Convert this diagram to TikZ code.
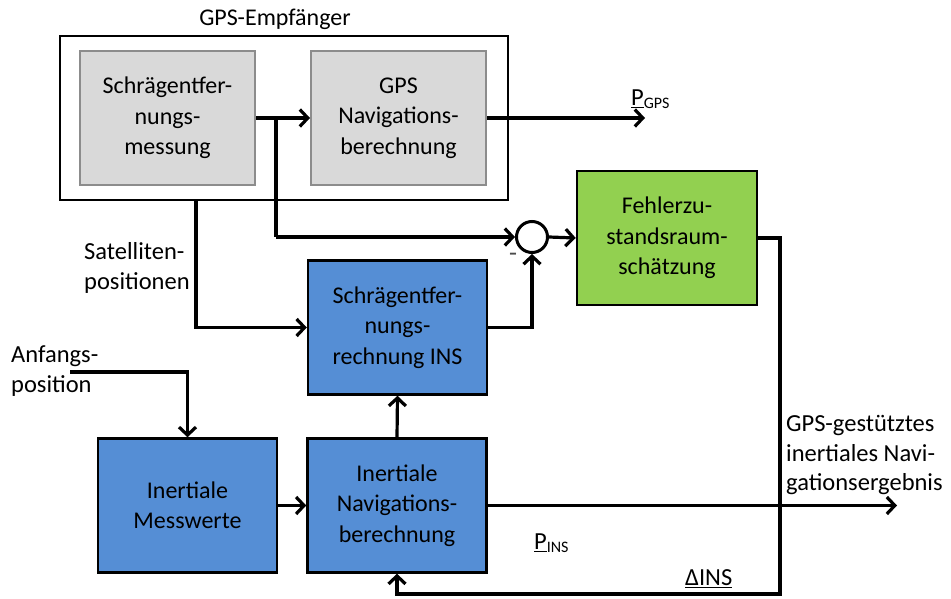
\documentclass[tikz,border=0pt]{standalone}
\usepackage{fontspec}
\setmainfont{Carlito}
\usetikzlibrary{arrows.meta,calc}
\definecolor{boxgray}{HTML}{D9D9D9}
\definecolor{bordergray}{HTML}{8C8C8C}
\definecolor{boxblue}{HTML}{558ED5}
\definecolor{boxgreen}{HTML}{92D050}
\begin{document}
\begin{tikzpicture}[x=1pt,y=-1pt,
  txt/.style={font=\fontsize{24}{30.5}\selectfont, align=center, inner sep=0pt},
  graybox/.style={txt, draw=bordergray, fill=boxgray, line width=2pt, minimum width=175pt, minimum height=134pt},
  bluebox/.style={txt, draw=black, fill=boxblue, line width=2.5pt, minimum width=179pt, minimum height=134pt},
  greenbox/.style={txt, draw=black, fill=boxgreen, line width=2.5pt, minimum width=180pt, minimum height=134pt},
  lbl/.style={font=\fontsize{24.5}{29.5}\selectfont, align=left, inner sep=0pt},
  conn/.style={line width=3.2pt, -{Straight Barb[length=8pt,width=17pt]}},
  wire/.style={line width=3.2pt}
]
\useasboundingbox (0,0) rectangle (951,599);
% outer GPS receiver box
\node[draw, line width=2pt, minimum width=448pt, minimum height=164pt, inner sep=0pt] (outer) at (284,118) {};
\node[txt] (title) at (275,19) {GPS-Empfänger};
\node[graybox] (meas) at (167.5,118) {Schrägentfer-\\nungs-\\messung};
\node[graybox] (gpsnav) at (398.5,118) {GPS\\Navigations-\\berechnung};
\node[greenbox] (est) at (667,238) {Fehlerzu-\\standsraum-\\schätzung};
\node[bluebox] (ins) at (397.5,327.5) {Schrägentfer-\\nungs-\\rechnung INS};
\node[bluebox] (imu) at (187.5,505.5) {Inertiale\\Messwerte};
\node[bluebox] (nav) at (397,505.5) {Inertiale\\Navigations-\\berechnung};
\node[circle, draw, line width=3pt, minimum size=31pt, inner sep=0pt] (sum) at (532,237) {};

% labels
\node[lbl, anchor=west] (sat) at (84,268) {Satelliten-\\positionen};
\node[lbl, anchor=west] (init) at (11,371) {Anfangs-\\position};
\node[lbl, anchor=west] (res) at (786,455) {GPS-gestütztes\\inertiales Navi-\\gationsergebnis};
\node[lbl, anchor=west] (pgps) at (631,99) {\underline{P}\raisebox{-3pt}{\fontsize{16}{16}\selectfont GPS}};
\node[lbl, anchor=west] (pins) at (534,543) {\underline{P}\raisebox{-3pt}{\fontsize{16}{16}\selectfont INS}};
\node[lbl, anchor=west] (dins) at (685,579) {\underline{ΔINS}};
\node[font=\fontsize{26}{26}\selectfont, inner sep=0pt, text=black!70] (minus) at (513,257) {-};

% coordinates
\coordinate (branch) at (276,118);
\coordinate (satx) at (196,0);
\coordinate (initstart) at (70,372);
\coordinate (gpsout) at (645,118);
\coordinate (resout) at (897,505.5);
\coordinate (fbx) at (780,0);
\coordinate (fby) at (0,594);

% connectors
\draw[conn] (meas.east) -- (gpsnav.west);
\draw[wire] (branch) -- (branch |- sum.west);
\draw[conn] (branch |- sum.west) -- (sum.west);
\draw[conn] (gpsnav.east) -- (gpsout);
\draw[conn] (sum.east) -- (est.west);
\draw[conn] (outer.south -| satx) -- (satx |- ins.west) -- (ins.west);
\draw[conn] (ins.east) -| (sum.south);
\draw[conn] (initstart) -| (imu.north);
\draw[conn] (imu.east) -- (nav.west);
\draw[conn] (nav.north) -- (ins.south);
\draw[conn] (nav.east) -- (resout);
\draw[conn] (est.east) -- (fbx |- est.east) -- (fbx |- fby) -| (nav.south);
\end{tikzpicture}
\end{document}
